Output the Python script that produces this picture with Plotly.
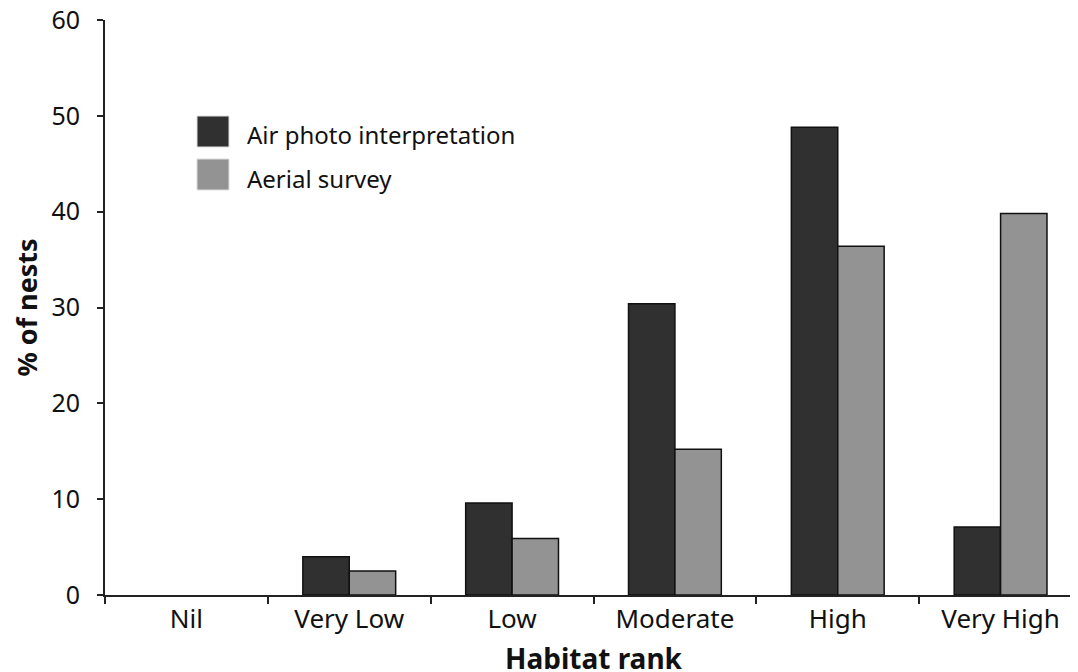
import plotly.graph_objects as go

categories = ["Nil", "Very Low", "Low", "Moderate", "High", "Very High"]
air_photo = [0, 4.0, 9.6, 30.4, 48.8, 7.1]
aerial_survey = [0, 2.5, 5.9, 15.2, 36.4, 39.8]
series_names = ["Air photo interpretation", "Aerial survey"]
series_colors = ["#303030", "#939393"]
y_ticks = [0, 10, 20, 30, 40, 50, 60]

FONT = "Noto Sans"
W, H = 1078, 672
OFF = 8  # page body offset
L, R, T, B = 105 - OFF, 4, 20 - OFF, H - (595 - OFF)

fig = go.Figure()
for name, vals, col in zip(series_names, [air_photo, aerial_survey], series_colors):
    fig.add_trace(go.Bar(
        x=categories, y=vals, name=name, showlegend=False,
        marker=dict(color=col, line=dict(color="#111111",
                                         width=[1.5 if v > 0 else 0 for v in vals])),
    ))

# manual legend (large square swatches), positions given in on-screen pixels
pw = W - L - R
ph = H - T - B
def px2x(px):
    return (px - OFF - L) / pw
def py2y(py):
    return (H - B - (py - OFF)) / ph

leg_tops = [116, 159]
for i, (name, col) in enumerate(zip(series_names, series_colors)):
    top = leg_tops[i]
    fig.add_shape(type="rect", xref="paper", yref="paper",
                  x0=px2x(197), x1=px2x(229), y0=py2y(top + 31), y1=py2y(top),
                  fillcolor=col, line=dict(color="#dddddd", width=1))
    fig.add_annotation(xref="paper", yref="paper", x=px2x(245), y=py2y(top + 19),
                       text=name, showarrow=False, xanchor="left", yanchor="middle",
                       font=dict(family=FONT, size=24, color="#111111"))

fig.update_layout(
    width=W, height=H,
    margin=dict(l=L, r=R, t=T, b=B, autoexpand=False),
    paper_bgcolor="white", plot_bgcolor="white",
    barmode="group", bargap=0.43, bargroupgap=0,
    font=dict(family=FONT, color="#111111"),
    showlegend=False,
)
fig.update_xaxes(
    type="category", range=[-0.5, 5.5],
    showline=True, linecolor="#222222", linewidth=1.8,
    ticks="outside", tickson="boundaries", ticklen=7, tickwidth=1.5, tickcolor="#222222",
    tickfont=dict(family=FONT, size=26, color="#111111"),
    showgrid=False, zeroline=False,
    title=dict(text="<b>Habitat rank</b>", font=dict(family=FONT, size=28, color="#111111"), standoff=14),
)
fig.update_yaxes(
    range=[0, 60], tickvals=y_ticks,
    showline=True, linecolor="#222222", linewidth=1.8,
    ticks="outside", ticklen=6, tickwidth=1.5, tickcolor="#222222",
    tickfont=dict(family=FONT, size=25, color="#111111"),
    ticklabelstandoff=12, ticklabeloverflow="allow",
    showgrid=False, zeroline=False,
    title=dict(text="<b>% of nests</b>", font=dict(family=FONT, size=27, color="#111111"), standoff=6),
)

fig.write_html("out.html")
